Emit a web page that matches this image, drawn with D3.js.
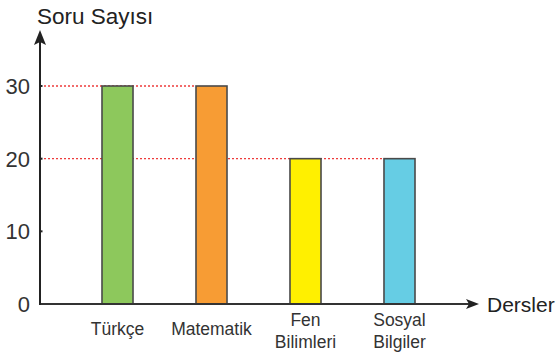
<!DOCTYPE html>
<html>
<head>
<meta charset="utf-8">
<script src="https://cdn.jsdelivr.net/npm/d3@7"></script>
<style>
  html, body { margin: 0; padding: 0; background: #fff; }
  text { font-family: "Liberation Sans", Arial, sans-serif; }
</style>
</head>
<body>
<svg id="chart" width="558" height="356"></svg>
<script>
// Lessons and question counts
const categories = [["Türkçe"], ["Matematik"], ["Fen", "Bilimleri"], ["Sosyal", "Bilgiler"]];
const values = [30, 30, 20, 20];
const colors = ["#8dc85c", "#f79c34", "#fff000", "#66cde4"];
const yTicks = [0, 10, 20, 30];
const yTitle = "Soru Sayısı";
const xTitle = "Dersler";

const svg = d3.select("#chart");
const originX = 40, originY = 304;

const y = d3.scaleLinear().domain([0, 30]).range([originY, 86]);
const x = d3.scaleBand()
  .domain(d3.range(values.length))
  .range([55, 462])
  .paddingInner(0.67)
  .paddingOuter(0.5);

// Red dotted guides from the axis to the last bar reaching each level
const guideLevels = Array.from(new Set(values)).filter(v => v > 0);
guideLevels.forEach(v => {
  let last = -1;
  values.forEach((d, i) => { if (d === v) last = i; });
  svg.append("line")
    .attr("x1", originX).attr("x2", x(last))
    .attr("y1", y(v)).attr("y2", y(v))
    .attr("stroke", "#ee3b3b").attr("stroke-width", 1.3)
    .attr("stroke-dasharray", "2,2");
});

// Bars
svg.selectAll("rect.bar").data(values).enter().append("rect")
  .attr("class", "bar")
  .attr("x", (d, i) => x(i))
  .attr("width", x.bandwidth())
  .attr("y", d => y(d))
  .attr("height", d => originY - y(d))
  .attr("fill", (d, i) => colors[i])
  .attr("stroke", "#4a4a4a")
  .attr("stroke-width", 1.6);

// X axis with arrow
svg.append("line")
  .attr("x1", originX).attr("x2", 470)
  .attr("y1", originY).attr("y2", originY)
  .attr("stroke", "#333").attr("stroke-width", 2);
svg.append("path")
  .attr("d", `M479,${originY} L466,${originY - 5} L469,${originY} L466,${originY + 5} Z`)
  .attr("fill", "#222");

// Y axis with arrow
svg.append("line")
  .attr("x1", originX).attr("x2", originX)
  .attr("y1", originY + 1).attr("y2", 42)
  .attr("stroke", "#222").attr("stroke-width", 2);
svg.append("path")
  .attr("d", `M${originX},30 L${originX - 6},45 L${originX},42 L${originX + 6},45 Z`)
  .attr("fill", "#222");

// Y ticks and labels
yTicks.forEach(t => {
  if (t > 0) {
    svg.append("line")
      .attr("x1", originX).attr("x2", originX + 2.5)
      .attr("y1", y(t)).attr("y2", y(t))
      .attr("stroke", "#222").attr("stroke-width", 2);
  }
  svg.append("text")
    .attr("x", 30).attr("y", y(t) + 8)
    .attr("text-anchor", "end")
    .attr("font-size", 22)
    .attr("fill", "#333")
    .text(t);
});

// Category labels
categories.forEach((lines, i) => {
  const cx = x(i) + x.bandwidth() / 2;
  const startY = lines.length === 1 ? 335 : 326;
  lines.forEach((ln, j) => {
    svg.append("text")
      .attr("x", cx).attr("y", startY + j * 21.5)
      .attr("text-anchor", "middle")
      .attr("font-size", 17.5)
      .attr("fill", "#333")
      .text(ln);
  });
});

// Axis titles
svg.append("text")
  .attr("x", 37).attr("y", 24)
  .attr("font-size", 22.5).attr("fill", "#222")
  .text(yTitle);
svg.append("text")
  .attr("x", 487).attr("y", 312)
  .attr("font-size", 21).attr("fill", "#222")
  .text(xTitle);
</script>
</body>
</html>
